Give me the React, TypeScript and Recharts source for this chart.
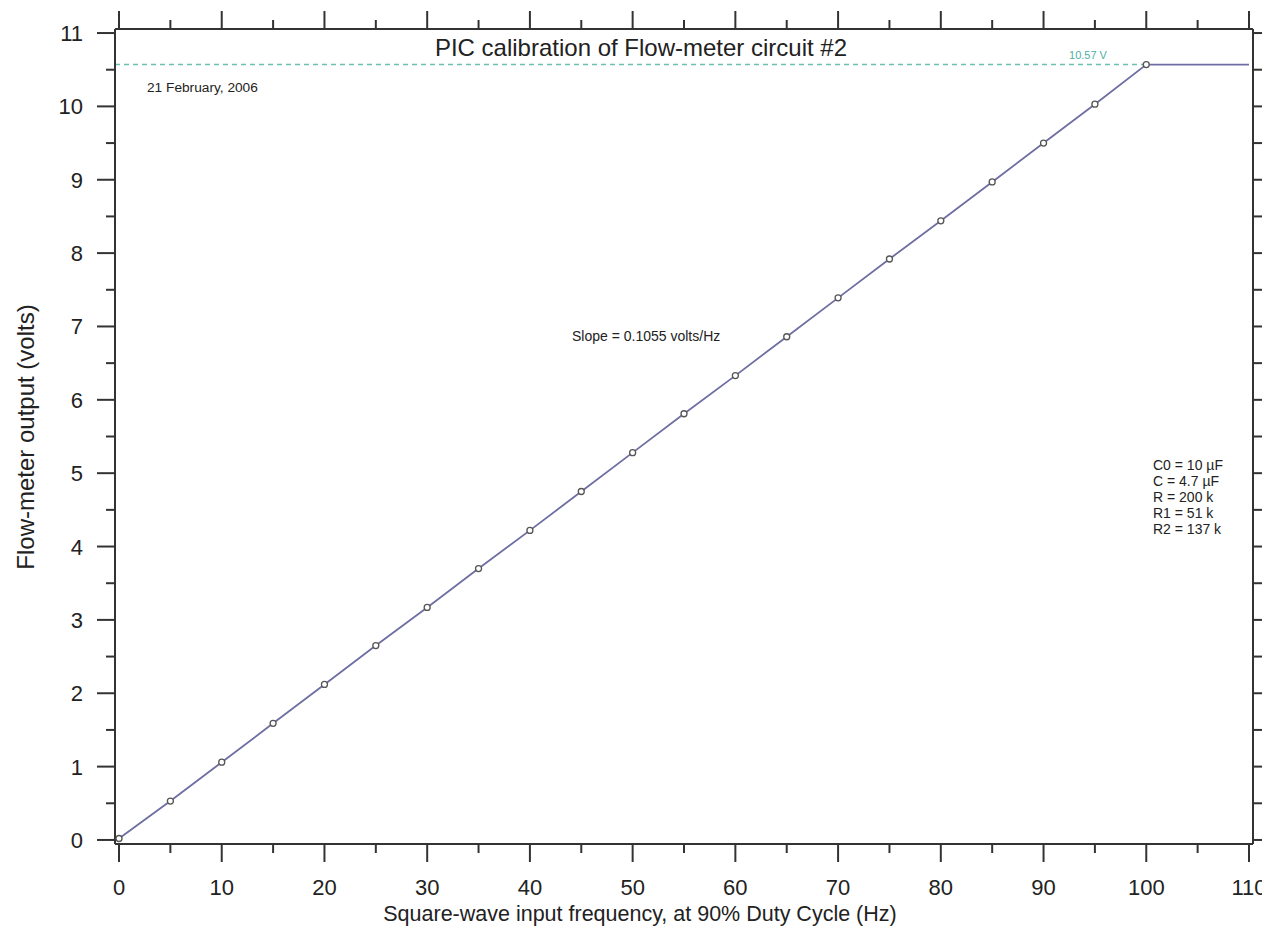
import React from "react";
import { LineChart, Line, XAxis, YAxis, ReferenceLine } from "recharts";

const freqHz = [0, 5, 10, 15, 20, 25, 30, 35, 40, 45, 50, 55, 60, 65, 70, 75, 80, 85, 90, 95, 100];
const outputVolts = [0.02, 0.53, 1.06, 1.59, 2.12, 2.65, 3.17, 3.7, 4.22, 4.75, 5.28, 5.81, 6.33, 6.86, 7.39, 7.92, 8.44, 8.97, 9.5, 10.03, 10.57];
const saturationFreq = [110];
const saturationVolts = [10.57];
const xTicks = [0, 5, 10, 15, 20, 25, 30, 35, 40, 45, 50, 55, 60, 65, 70, 75, 80, 85, 90, 95, 100, 105, 110];
const yTicks = [0, 0.5, 1, 1.5, 2, 2.5, 3, 3.5, 4, 4.5, 5, 5.5, 6, 6.5, 7, 7.5, 8, 8.5, 9, 9.5, 10, 10.5, 11];
const componentLines = ["C0 = 10 \u00b5F", "C = 4.7 \u00b5F", "R = 200 k", "R1 = 51 k", "R2 = 137 k"];

const data = [
  ...freqHz.map((f, i) => ({ f, v: outputVolts[i], marker: true })),
  ...saturationFreq.map((f, i) => ({ f, v: saturationVolts[i], marker: false })),
];

const FONT = "'Liberation Sans', Arial, Helvetica, sans-serif";
const AX = "#333";
const MAJ = 18;
const MIN = 9;

const isMajorX = (v: number) => v % 10 === 0;
const isMajorY = (v: number) => Math.abs(v - Math.round(v)) < 1e-6;

const BottomTick = (p: any) => {
  const v = p.payload.value;
  const maj = isMajorX(v);
  return (
    <g>
      <line x1={p.x} x2={p.x} y1={p.y} y2={p.y + (maj ? MAJ : MIN)} stroke={AX} strokeWidth={2} />
      {maj && (
        <text x={p.x} y={p.y + 51} textAnchor="middle" fontSize={22} fontFamily={FONT} fill="#222">
          {v}
        </text>
      )}
    </g>
  );
};

const TopTick = (p: any) => {
  const v = p.payload.value;
  const maj = isMajorX(v);
  return <line x1={p.x} x2={p.x} y1={p.y} y2={p.y - (maj ? MAJ : MIN)} stroke={AX} strokeWidth={2} />;
};

const LeftTick = (p: any) => {
  const v = p.payload.value;
  const maj = isMajorY(v);
  return (
    <g>
      <line x1={p.x} x2={p.x - (maj ? MAJ : MIN)} y1={p.y} y2={p.y} stroke={AX} strokeWidth={2} />
      {maj && (
        <text x={p.x - 32} y={p.y + 8} textAnchor="end" fontSize={22} fontFamily={FONT} fill="#222">
          {v}
        </text>
      )}
    </g>
  );
};

const RightTick = (p: any) => {
  const v = p.payload.value;
  const maj = isMajorY(v);
  return <line x1={p.x} x2={p.x + (maj ? MAJ : MIN)} y1={p.y} y2={p.y} stroke={AX} strokeWidth={2} />;
};

const Dot = (p: any) => {
  if (!p.payload || !p.payload.marker) return <g key={p.key ?? p.index} />;
  return <circle key={p.key ?? p.index} cx={p.cx} cy={p.cy} r={3} fill="#fff" stroke="#555" strokeWidth={1.3} />;
};

export default function App() {
  return (
    <div style={{ position: "absolute", left: 0, top: 0, width: 1262, height: 935, background: "#fff" }}>
      <LineChart width={1262} height={935} data={data} margin={{ top: 0, right: 0, bottom: 0, left: 0 }}>
        <XAxis
          xAxisId="b"
          dataKey="f"
          type="number"
          domain={[-0.39, 110.39]}
          ticks={xTicks}
          interval={0}
          orientation="bottom"
          height={91}
          tickSize={0}
          tickMargin={0}
          tickLine={false}
          axisLine={{ stroke: AX, strokeWidth: 2 }}
          tick={<BottomTick />}
          allowDataOverflow
        />
        <XAxis
          xAxisId="t"
          dataKey="f"
          type="number"
          domain={[-0.39, 110.39]}
          ticks={xTicks}
          interval={0}
          orientation="top"
          height={29}
          tickSize={0}
          tickMargin={0}
          tickLine={false}
          axisLine={{ stroke: AX, strokeWidth: 2 }}
          tick={<TopTick />}
          allowDataOverflow
        />
        <YAxis
          yAxisId="l"
          type="number"
          domain={[-0.055, 11.055]}
          ticks={yTicks}
          interval={0}
          orientation="left"
          width={115}
          tickSize={0}
          tickMargin={0}
          tickLine={false}
          axisLine={{ stroke: AX, strokeWidth: 2 }}
          tick={<LeftTick />}
          allowDataOverflow
        />
        <YAxis
          yAxisId="r"
          type="number"
          domain={[-0.055, 11.055]}
          ticks={yTicks}
          interval={0}
          orientation="right"
          width={9}
          tickSize={0}
          tickMargin={0}
          tickLine={false}
          axisLine={{ stroke: AX, strokeWidth: 2 }}
          tick={<RightTick />}
          allowDataOverflow
        />
        <ReferenceLine
          xAxisId="b"
          yAxisId="l"
          segment={[
            { x: -0.39, y: saturationVolts[0] },
            { x: 100, y: saturationVolts[0] },
          ]}
          stroke="#6cc0ae"
          strokeWidth={1.5}
          strokeDasharray="5 4"
          ifOverflow="visible"
        />
        <Line
          xAxisId="b"
          yAxisId="l"
          dataKey="v"
          stroke="#6e6ea2"
          strokeWidth={1.8}
          dot={Dot}
          activeDot={false}
          isAnimationActive={false}
        />
      </LineChart>
      <svg width={1262} height={935} style={{ position: "absolute", left: 0, top: 0, pointerEvents: "none" }}>
        <g fontFamily={FONT} fill="#222">
          <text x={641} y={56} textAnchor="middle" fontSize={24}>
            PIC calibration of Flow-meter circuit #2
          </text>
          <text x={147} y={92} fontSize={13.7}>
            21 February, 2006
          </text>
          <text x={572} y={341} fontSize={14}>
            Slope = 0.1055 volts/Hz
          </text>
          {componentLines.map((t, i) => (
            <text key={t} x={1153} y={470 + i * 16} fontSize={14}>
              {t}
            </text>
          ))}
          <text x={640} y={921} textAnchor="middle" fontSize={21.5}>
            Square-wave input frequency, at 90% Duty Cycle (Hz)
          </text>
          <text x={34} y={437} textAnchor="middle" fontSize={24} transform="rotate(-90 34 437)">
            Flow-meter output (volts)
          </text>
          <text x={1088} y={59} textAnchor="middle" fontSize={11} fill="#4fb0a0">
            10.57 V
          </text>
        </g>
      </svg>
    </div>
  );
}
